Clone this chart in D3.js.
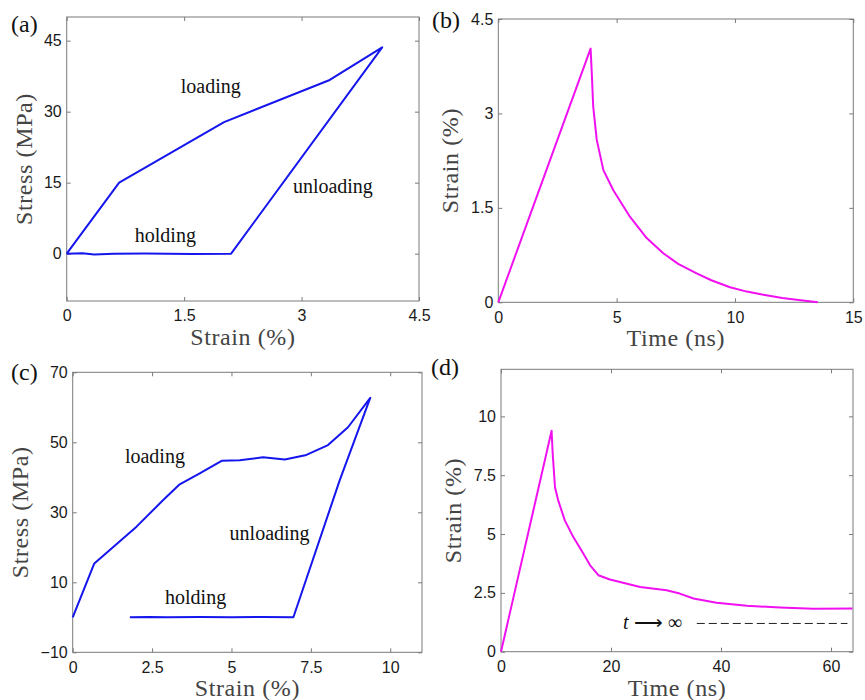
<!DOCTYPE html>
<html lang="en">
<head>
<meta charset="UTF-8">
<title>Stress-strain panels</title>
<script src="https://d3js.org/d3.v7.min.js"></script>
<style>
  body { margin: 0; background: #fff; }
  .tick text { font-family: "Liberation Sans", Arial, sans-serif; font-size: 16px; fill: #1a1a1a; }
  .tick line { stroke: #7a7a7a; }
  .domain { display: none; }
  .title { font-family: "Liberation Serif", "Times New Roman", serif; font-size: 24px; letter-spacing: 0.6px; fill: #444; }
  .note { font-family: "Liberation Serif", "Times New Roman", serif; font-size: 20px; fill: #111; }
  .panel { font-family: "Liberation Serif", "Times New Roman", serif; font-size: 24px; fill: #111; }
</style>
</head>
<body>
<svg></svg>
<script>
// (a) stress-strain loop, small strain
var aStrain = [0, 0.67, 2.01, 3.36, 4.03, 2.10, 1.6, 1.0, 0.6, 0.35, 0.2, 0];
var aStress = [0, 15, 27.8, 36.7, 43.6, 0, -0.05, 0.05, 0, -0.2, 0.1, 0];
var aXTicks = [0, 1.5, 3, 4.5];
var aYTicks = [0, 15, 30, 45];

// (b) strain vs time
var bTime   = [0, 3.9, 3.95, 4.01, 4.16, 4.44, 4.86, 5.56, 6.27, 6.97, 7.6, 8.38, 9.0, 9.79, 10.5, 11.2, 12.0, 12.6, 13.5];
var bStrain = [0, 4.03, 3.64, 3.11, 2.58, 2.10, 1.78, 1.36, 1.02, 0.78, 0.61, 0.46, 0.35, 0.24, 0.17, 0.12, 0.07, 0.04, 0];
var bXTicks = [0, 5, 10, 15];
var bYTicks = [0, 1.5, 3, 4.5];

// (c) stress-strain loop, large strain
var cStrain = [0, 0.68, 2.01, 2.85, 3.37, 4.0, 4.69, 5.26, 5.99, 6.68, 7.36, 8.04, 8.67, 9.37,
               8.41, 6.95, 6.0, 5.0, 4.0, 3.0, 2.4, 1.8];
var cStress = [0, 15.4, 25.9, 33.5, 38.0, 41.1, 44.7, 44.9, 45.7, 45.1, 46.4, 49.2, 54.3, 62.7,
               39.2, 0, 0.1, 0, 0.1, 0, 0.1, 0];
var cXTicks = [0, 2.5, 5, 7.5, 10];
var cYTicks = [-10, 10, 30, 50, 70];

// (d) strain vs time, long run
var dTime   = [0, 9.2, 9.4, 9.82, 10.4, 11.6, 13.15, 14.96, 16.2, 17.7, 19.8, 25.3, 30.1, 32.5, 35.0, 39.2, 44.7, 50.7, 56.8, 63.9];
var dStrain = [0, 9.39, 8.41, 6.99, 6.43, 5.58, 4.87, 4.17, 3.67, 3.25, 3.07, 2.75, 2.61, 2.47, 2.26, 2.08, 1.95, 1.88, 1.82, 1.84];
var dXTicks = [0, 20, 40, 60];
var dYTicks = [0, 2.5, 5, 7.5, 10];
var dLimitTime = [35.6, 63];
var dLimitStrain = [1.2, 1.2];

var svg = d3.select("svg").attr("width", 865).attr("height", 700);
var fmt = d3.format("~g");

function drawPanel(p) {
    var x = d3.scaleLinear().domain(p.xDomain).range([p.left, p.right]);
    var y = d3.scaleLinear().domain(p.yDomain).range([p.bottom, p.top]);
    var g = svg.append("g");

    // ticks inside, on all four sides (matlab style)
    g.append("g").attr("transform", "translate(0," + p.bottom + ")")
        .call(d3.axisBottom(x).tickValues(p.xTicks).tickFormat(fmt).tickSizeInner(-4).tickSizeOuter(0).tickPadding(9));
    g.append("g").attr("transform", "translate(0," + p.top + ")")
        .call(d3.axisTop(x).tickValues(p.xTicks).tickSizeInner(-4).tickSizeOuter(0).tickFormat(""));
    g.append("g").attr("transform", "translate(" + p.left + ",0)")
        .call(d3.axisLeft(y).tickValues(p.yTicks).tickFormat(fmt).tickSizeInner(-4).tickSizeOuter(0).tickPadding(5));
    g.append("g").attr("transform", "translate(" + p.right + ",0)")
        .call(d3.axisRight(y).tickValues(p.yTicks).tickSizeInner(-4).tickSizeOuter(0).tickFormat(""));

    g.append("rect")
        .attr("x", p.left).attr("y", p.top)
        .attr("width", p.right - p.left).attr("height", p.bottom - p.top)
        .attr("fill", "none").attr("stroke", "#7a7a7a").attr("stroke-width", 1);

    var line = d3.line().x(d => x(d[0])).y(d => y(d[1]));
    g.append("path")
        .datum(d3.zip(p.xs, p.ys))
        .attr("d", line)
        .attr("fill", "none")
        .attr("stroke", p.color)
        .attr("stroke-width", 2)
        .attr("stroke-linejoin", "round");

    g.append("text").attr("class", "title")
        .attr("x", (p.left + p.right) / 2).attr("y", p.bottom + 44)
        .attr("text-anchor", "middle").text(p.xTitle);
    g.append("text").attr("class", "title")
        .attr("transform", "translate(" + p.yTitleX + "," + ((p.top + p.bottom) / 2) + ") rotate(-90)")
        .attr("text-anchor", "middle").text(p.yTitle);

    g.append("text").attr("class", "panel")
        .attr("x", p.tagX).attr("y", p.tagY).text(p.tag);

    (p.notes || []).forEach(n => {
        g.append("text").attr("class", "note")
            .attr("x", x(n[0])).attr("y", y(n[1]))
            .attr("text-anchor", "middle").text(n[2]);
    });
    return { g: g, x: x, y: y };
}

drawPanel({
    left: 66.7, right: 419, top: 17, bottom: 301,
    xDomain: [0, 4.5], yDomain: [-10, 50], xTicks: aXTicks, yTicks: aYTicks,
    xs: aStrain, ys: aStress, color: "#1515ee",
    xTitle: "Strain (%)", yTitle: "Stress (MPa)", yTitleX: 32,
    tag: "(a)", tagX: 11, tagY: 32,
    notes: [[1.84, 33.9, "loading"], [3.40, 12.8, "unloading"], [1.26, 2.45, "holding"]]
});

drawPanel({
    left: 498.3, right: 853.3, top: 19, bottom: 302.3,
    xDomain: [0, 15], yDomain: [0, 4.5], xTicks: bXTicks, yTicks: bYTicks,
    xs: bTime, ys: bStrain, color: "#f010f0",
    xTitle: "Time (ns)", yTitle: "Strain (%)", yTitleX: 458,
    tag: "(b)", tagX: 432, tagY: 28
});

drawPanel({
    left: 72.7, right: 422, top: 372.3, bottom: 652.3,
    xDomain: [0, 11], yDomain: [-10, 70], xTicks: cXTicks, yTicks: cYTicks,
    xs: cStrain, ys: cStress, color: "#1515ee",
    xTitle: "Strain (%)", yTitle: "Stress (MPa)", yTitleX: 28,
    tag: "(c)", tagX: 11, tagY: 380,
    notes: [[2.59, 44, "loading"], [6.20, 22.1, "unloading"], [3.87, 3.8, "holding"]]
});

var d = drawPanel({
    left: 501, right: 853, top: 369.3, bottom: 651.7,
    xDomain: [0, 64], yDomain: [0, 12], xTicks: dXTicks, yTicks: dYTicks,
    xs: dTime, ys: dStrain, color: "#f010f0",
    xTitle: "Time (ns)", yTitle: "Strain (%)", yTitleX: 461,
    tag: "(d)", tagX: 431, tagY: 375
});

// long-time limit
d.g.append("path")
    .datum(d3.zip(dLimitTime, dLimitStrain))
    .attr("d", d3.line().x(v => d.x(v[0])).y(v => d.y(v[1])))
    .attr("fill", "none").attr("stroke", "#222").attr("stroke-width", 1)
    .attr("stroke-dasharray", "8,4");

var lim = d.g.append("text").attr("class", "note")
    .attr("x", d.x(22.2)).attr("y", d.y(0.96));
lim.append("tspan").attr("font-style", "italic").text("t");
lim.append("tspan").text(" \u27F6 \u221E");
</script>
</body>
</html>
